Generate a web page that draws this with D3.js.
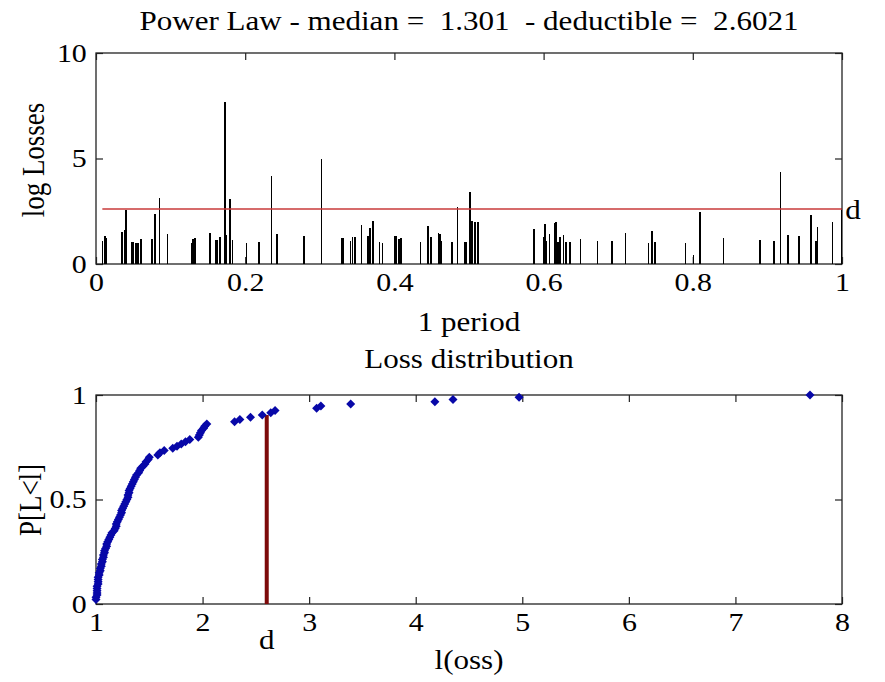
<!DOCTYPE html>
<html>
<head>
<meta charset="utf-8">
<script src="https://cdn.jsdelivr.net/npm/d3@7"></script>
<style>
  body { margin: 0; background: #fff; }
  text { font-family: "Liberation Serif", "Times New Roman", serif; fill: #000; }
</style>
</head>
<body>
<div id="chart"></div>
<script>
// event times within the period (fraction of 1 period)
const times = [
  0.0085, 0.012, 0.014, 0.035, 0.038, 0.040, 0.048, 0.050, 0.054, 0.056,
  0.060, 0.075, 0.079, 0.085, 0.096, 0.128, 0.130, 0.133, 0.153, 0.160,
  0.162, 0.166, 0.173, 0.175, 0.180, 0.183, 0.202, 0.2185, 0.2355, 0.2426,
  0.279, 0.3025, 0.330, 0.332, 0.341, 0.344, 0.347, 0.356, 0.365, 0.367,
  0.371, 0.380, 0.384, 0.401, 0.403, 0.4065, 0.409, 0.435, 0.445, 0.449,
  0.459, 0.461, 0.463, 0.477, 0.4845, 0.494, 0.496, 0.501, 0.504, 0.508,
  0.512, 0.5875, 0.5997, 0.602, 0.604, 0.608, 0.615, 0.617, 0.6197, 0.622,
  0.6265, 0.630, 0.6354, 0.6497, 0.672, 0.692, 0.7096, 0.7404, 0.7457, 0.749,
  0.790, 0.8007, 0.810, 0.8414, 0.8897, 0.9088, 0.9173, 0.928, 0.9424, 0.9584,
  0.965, 0.9674, 0.9875, 0.9995
];
// log losses for each event
const logLosses = [
  1.08, 1.31, 1.22, 1.50, 1.60, 2.56, 1.03, 1.04, 1.00, 1.01,
  1.18, 1.17, 2.35, 3.11, 1.40, 1.00, 1.19, 1.21, 1.46, 1.13,
  1.12, 1.28, 7.70, 1.37, 3.07, 1.15, 1.01, 1.02, 4.18, 1.44,
  1.32, 4.97, 1.25, 1.24, 1.10, 1.27, 1.30, 1.84, 1.34, 1.72,
  2.04, 1.06, 1.01, 1.35, 1.33, 1.20, 1.23, 1.05, 1.80, 1.26,
  1.47, 1.42, 1.07, 1.02, 2.68, 1.04, 1.06, 3.39, 2.02, 2.01,
  1.99, 1.64, 1.29, 1.88, 1.09, 1.41, 1.96, 1.97, 1.03, 1.30,
  1.36, 1.02, 1.05, 1.19, 1.07, 1.10, 1.49, 1.01, 1.58, 1.02,
  1.01, 0.45, 2.45, 1.24, 1.14, 1.11, 4.35, 1.38, 1.31, 2.30,
  1.08, 1.76, 1.98, 2.64
];
const median = 1.301;
const deductible = 2.6021;

const topXTicks = [0, 0.2, 0.4, 0.6, 0.8, 1];
const topYTicks = [0, 5, 10];
const botXTicks = [1, 2, 3, 4, 5, 6, 7, 8];
const botYTicks = [0, 0.5, 1];

const width = 885, height = 682;
const left = 96, right = 842;
const stretch = "scale(1.15,1)";

const svg = d3.select("#chart")
  .append("svg")
  .attr("width", width)
  .attr("height", height);

// draws a matlab-like boxed axes with inward ticks on all four sides
function boxAxes(x, y, xTicks, yTicks, xFmt, yFmt) {
  let [x0, x1] = x.range();
  let [yb, yt] = y.range();
  let g = svg.append("g");

  g.append("g")
    .attr("transform", `translate(0,${yb})`)
    .call(d3.axisBottom(x).tickValues(xTicks).tickSize(-7).tickPadding(9).tickFormat(xFmt));
  g.append("g")
    .attr("transform", `translate(0,${yt})`)
    .call(d3.axisTop(x).tickValues(xTicks).tickSize(-7).tickFormat(""));
  g.append("g")
    .attr("transform", `translate(${x0},0)`)
    .call(d3.axisLeft(y).tickValues(yTicks).tickSize(-7).tickPadding(8).tickFormat(yFmt));
  g.append("g")
    .attr("transform", `translate(${x1},0)`)
    .call(d3.axisRight(y).tickValues(yTicks).tickSize(-7).tickFormat(""));

  g.selectAll(".domain").remove();
  g.selectAll(".tick line").attr("stroke", "#222").attr("stroke-width", 1.2);
  g.selectAll(".tick text")
    .style("font-size", "26px")
    .style("font-family", '"Liberation Serif", serif')
    .attr("transform", stretch);

  g.append("rect")
    .attr("x", x0).attr("y", yt)
    .attr("width", x1 - x0).attr("height", yb - yt)
    .attr("fill", "none")
    .attr("stroke", "#222")
    .attr("stroke-width", 1.3);
  return g;
}

function label(txt, px, py, rot, color) {
  let g = svg.append("g").attr("transform", `translate(${px},${py})` + (rot ? " rotate(-90)" : ""));
  g.append("text")
    .attr("text-anchor", "middle")
    .attr("dominant-baseline", "central")
    .attr("transform", rot ? "scale(1,1.15)" : stretch)
    .style("font-size", "27px")
    .style("white-space", "pre")
    .attr("fill", color || "#000")
    .text(txt);
}

// ---------- top panel: log losses over one period ----------
let x1 = d3.scaleLinear().domain([0, 1]).range([left, right]);
let y1 = d3.scaleLinear().domain([0, 10]).range([264, 53]);

boxAxes(x1, y1, topXTicks, topYTicks, d => d, d => d);

svg.append("g")
  .selectAll("rect")
  .data(times.map((t, i) => ({ t: t, v: logLosses[i] })))
  .join("rect")
  .attr("x", d => x1(d.t) - 0.8)
  .attr("width", 1.6)
  .attr("y", d => y1(d.v))
  .attr("height", d => y1(0) - y1(d.v))
  .attr("fill", "#000")
  .attr("shape-rendering", "crispEdges");

svg.append("line")
  .attr("x1", x1(d3.min(times)))
  .attr("x2", x1(1))
  .attr("y1", y1(deductible))
  .attr("y2", y1(deductible))
  .attr("stroke", "#c83a3a")
  .attr("stroke-width", 1.5);

label("d", 853, y1(deductible) + 1, false, "#9a1010");
label("Power Law - median =  " + median + "  - deductible =  " + deductible, (left + right) / 2, 21);
label("log Losses", 33, 160, true);
label("1 period", (left + right) / 2, 322);

// ---------- bottom panel: empirical loss distribution ----------
let x2 = d3.scaleLinear().domain([1, 8]).range([left, right]);
let y2 = d3.scaleLinear().domain([0, 1]).range([604, 395]);

boxAxes(x2, y2, botXTicks, botYTicks, d => d, d => d);

let sorted = logLosses.slice().sort(d3.ascending);
let n = sorted.length;
let cdf = sorted.map((v, i) => ({ l: v, p: (i + 1) / n }));
let pAtD = cdf.filter(d => d.l <= deductible).length / n;

svg.append("line")
  .attr("x1", x2(deductible))
  .attr("x2", x2(deductible))
  .attr("y1", y2(0))
  .attr("y2", y2(pAtD))
  .attr("stroke", "#7d0a0a")
  .attr("stroke-width", 4);

svg.append("g")
  .selectAll("path")
  .data(cdf.filter(d => d.l >= 1))
  .join("path")
  .attr("transform", d => `translate(${x2(d.l)},${y2(d.p)})`)
  .attr("d", "M0,-4.5L4.5,0L0,4.5L-4.5,0Z")
  .attr("fill", "#0808a8");

label("Loss distribution", (left + right) / 2, 359);
label("P[L<l]", 30, 500, true);
label("l(oss)", (left + right) / 2, 660);
label("d", x2(deductible), 640, false, "#8b1a1a");
</script>
</body>
</html>
